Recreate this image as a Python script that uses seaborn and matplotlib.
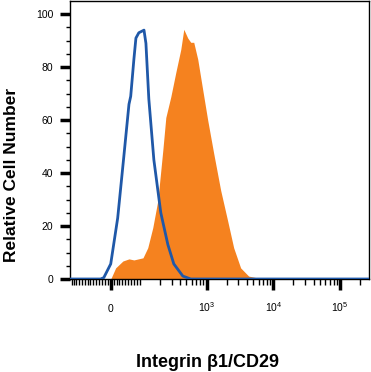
import numpy as np
import pandas as pd
import matplotlib
matplotlib.use("Agg")
import matplotlib.pyplot as plt
import seaborn as sns

# isotype control (blue outline)
isotype_x = [-150, -35, -24, 0, 24, 45, 63, 69, 80, 87, 97, 116, 124, 137, 163, 207, 264, 324, 442, 581, 270000]
isotype_y = [0, 0, 0.5, 5.7, 23, 46, 66, 69, 83, 91, 93, 94, 89, 68, 45, 25, 13, 5.7, 1.1, 0, 0]

# anti-CD29 stained (orange filled)
cd29_x = [0, 17, 42, 63, 80, 112, 132, 157, 187, 222, 246, 292, 347, 412, 457, 524, 581, 644,
          739, 877, 1042, 1280, 1629, 2070, 2550, 3240, 4270, 5810, 6440]
cd29_y = [0, 4.2, 6.8, 7.6, 7.2, 8, 11.8, 19.4, 29.7, 48.7, 61, 68.8, 78, 86.7, 94.3, 91, 89.4, 89.4,
          83, 71.5, 60, 47.5, 33.5, 22, 11.8, 4.2, 1.1, 0.4, 0]

xtick_vals = [0, 1e3, 1e4, 1e5]
xtick_labels = ["0", "$10^3$", "$10^4$", "$10^5$"]
ytick_vals = [0, 20, 40, 60, 80, 100]

sns.set_style("ticks")
plt.rcParams["font.family"] = ["Liberation Sans", "DejaVu Sans"]
plt.rcParams["mathtext.fontset"] = "custom"
plt.rcParams["mathtext.rm"] = "Liberation Sans"
plt.rcParams["mathtext.default"] = "regular"
plt.rcParams["text.color"] = "black"
plt.rcParams["axes.labelcolor"] = "black"
plt.rcParams["xtick.color"] = "black"
plt.rcParams["ytick.color"] = "black"

orange = "#f5821f"
blue = "#1f58a8"

fig = plt.figure(figsize=(3.71, 3.72), dpi=100)
ax = fig.add_axes([70 / 371, 1 - 279 / 372, 299 / 371, 278 / 372])

iso = pd.DataFrame({"x": isotype_x, "y": isotype_y})
ax.fill_between(cd29_x, cd29_y, color=orange, lw=0, zorder=2)
sns.lineplot(data=iso, x="x", y="y", ax=ax, color=blue, lw=2.0, zorder=3, sort=False)

ax.set_xscale("symlog", linthresh=100, linscale=0.39)
ax.set_xlim(-150, 270000)
ax.set_ylim(0, 105)

# x ticks
ax.set_xticks(xtick_vals, labels=xtick_labels)
minor = list(np.arange(-140, 100, 10))
for k in [2, 3, 4, 5]:
    minor += [m * 10 ** k for m in range(1, 10)]
minor = [m for m in minor if m not in xtick_vals and m < 270000]
ax.set_xticks(minor, minor=True)
ax.tick_params(axis="x", which="major", direction="out", length=8, width=2.5, pad=16, labelsize=7.5)
ax.tick_params(axis="x", which="minor", direction="out", length=4, width=1)
for lbl in ax.get_xticklabels():
    lbl.set_va("baseline")

# y ticks
ax.set_yticks(ytick_vals)
ax.set_yticks(np.arange(5, 105, 5), minor=True)
ax.tick_params(axis="y", which="major", direction="out", length=7, width=2.5, pad=5, labelsize=7.5)
ax.tick_params(axis="y", which="minor", direction="out", length=3, width=1)

for s in ax.spines.values():
    s.set_visible(True)
    s.set_linewidth(1)
    s.set_color("black")

ax.set_xlabel("Integrin β1/CD29", fontsize=13, fontweight="bold", va="center")
ax.xaxis.set_label_coords(0.46, -0.30)
ax.set_ylabel("Relative Cell Number", fontsize=12.5, fontweight="bold", va="center")
ax.yaxis.set_label_coords(-0.194, 0.374)

fig.savefig("out.png", dpi=100)
